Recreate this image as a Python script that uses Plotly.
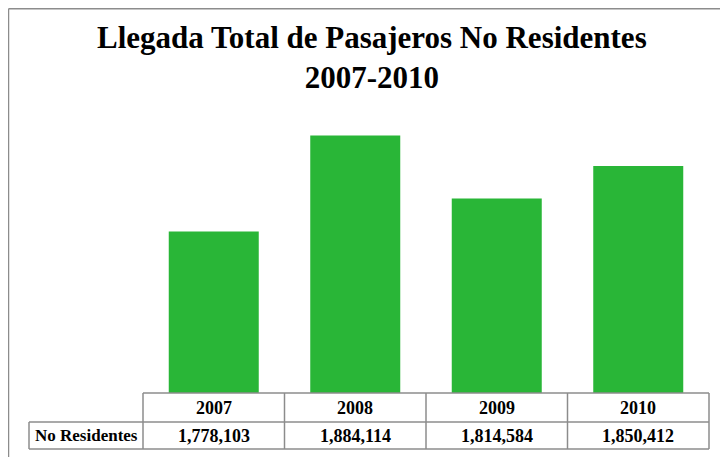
import plotly.graph_objects as go

years = ["2007", "2008", "2009", "2010"]
values = [1778103, 1884114, 1814584, 1850412]
series_name = "No Residentes"
title_line1 = "Llegada Total de Pasajeros No Residentes"
title_line2 = "2007-2010"

OFF = 8  # page body margin
W, H = 728 - OFF, 457 - OFF
L, R, T, B = 143 - OFF, 709 - OFF, 121 - OFF, 393 - OFF  # plot area in figure pixels
pw, ph = R - L, B - T

def px(x):
    return (x - OFF - L) / pw

def py(y):
    return (B - (y - OFF)) / ph

fig = go.Figure()
fig.add_trace(go.Bar(
    x=years, y=values, marker=dict(color="#29b637", line=dict(width=0)),
    width=0.636, showlegend=False, hoverinfo="x+y",
))

line_col = "#8c8c8c"
shapes = []
def hline(x0, x1, y):
    shapes.append(dict(type="line", xref="paper", yref="paper", x0=px(x0), x1=px(x1),
                       y0=py(y), y1=py(y), line=dict(color=line_col, width=1.5)))
def vline(x, y0, y1):
    shapes.append(dict(type="line", xref="paper", yref="paper", x0=px(x), x1=px(x),
                       y0=py(y0), y1=py(y1), line=dict(color=line_col, width=1.5)))

# outer frame (top and left)
hline(8.5, 740, 8.8)
vline(8.5, 8.8, 470)

# table
row0, row1, row2 = 393, 422, 449
label_left = 29
hline(143, 709, row0)
hline(label_left, 709, row1)
hline(label_left, 709, row2)
vline(label_left, row1, row2)
for i in range(len(years) + 1):
    vline(143 + i * (709 - 143) / len(years), row0, row2)

ann = []
tfont = dict(family="Liberation Serif", size=18, color="black", weight="bold")
for i, (yr, v) in enumerate(zip(years, values)):
    ann.append(dict(x=i, xref="x", y=py((row0 + row1) / 2), yref="paper",
                    text=f"<b>{yr}</b>", showarrow=False, font=tfont,
                    xanchor="center", yanchor="middle"))
    ann.append(dict(x=i, xref="x", y=py((row1 + row2) / 2), yref="paper",
                    text=f"<b>{v:,}</b>", showarrow=False, font=tfont,
                    xanchor="center", yanchor="middle"))
ann.append(dict(x=px((label_left + 143) / 2), xref="paper", y=py((row1 + row2) / 2), yref="paper",
                text=f"<b>{series_name}</b>", showarrow=False,
                font=dict(family="Liberation Serif", size=17, color="black", weight="bold"),
                xanchor="center", yanchor="middle"))
ann.append(dict(x=px(372), xref="paper", y=py(58), yref="paper",
                text=f"<b>{title_line1}</b><br><b>{title_line2}</b>", showarrow=False,
                font=dict(family="Liberation Serif", size=31, color="black", weight="bold"),
                xanchor="center", yanchor="middle", align="center"))

fig.update_layout(
    width=W, height=H,
    margin=dict(l=L, r=W - R, t=T, b=H - B, pad=0),
    paper_bgcolor="white", plot_bgcolor="white",
    xaxis=dict(visible=False, type="category", range=[-0.5, 3.5]),
    yaxis=dict(visible=False, range=[1600000, 1900000]),
    shapes=shapes, annotations=ann, bargap=0.3,
)
fig.write_html("out.html")
